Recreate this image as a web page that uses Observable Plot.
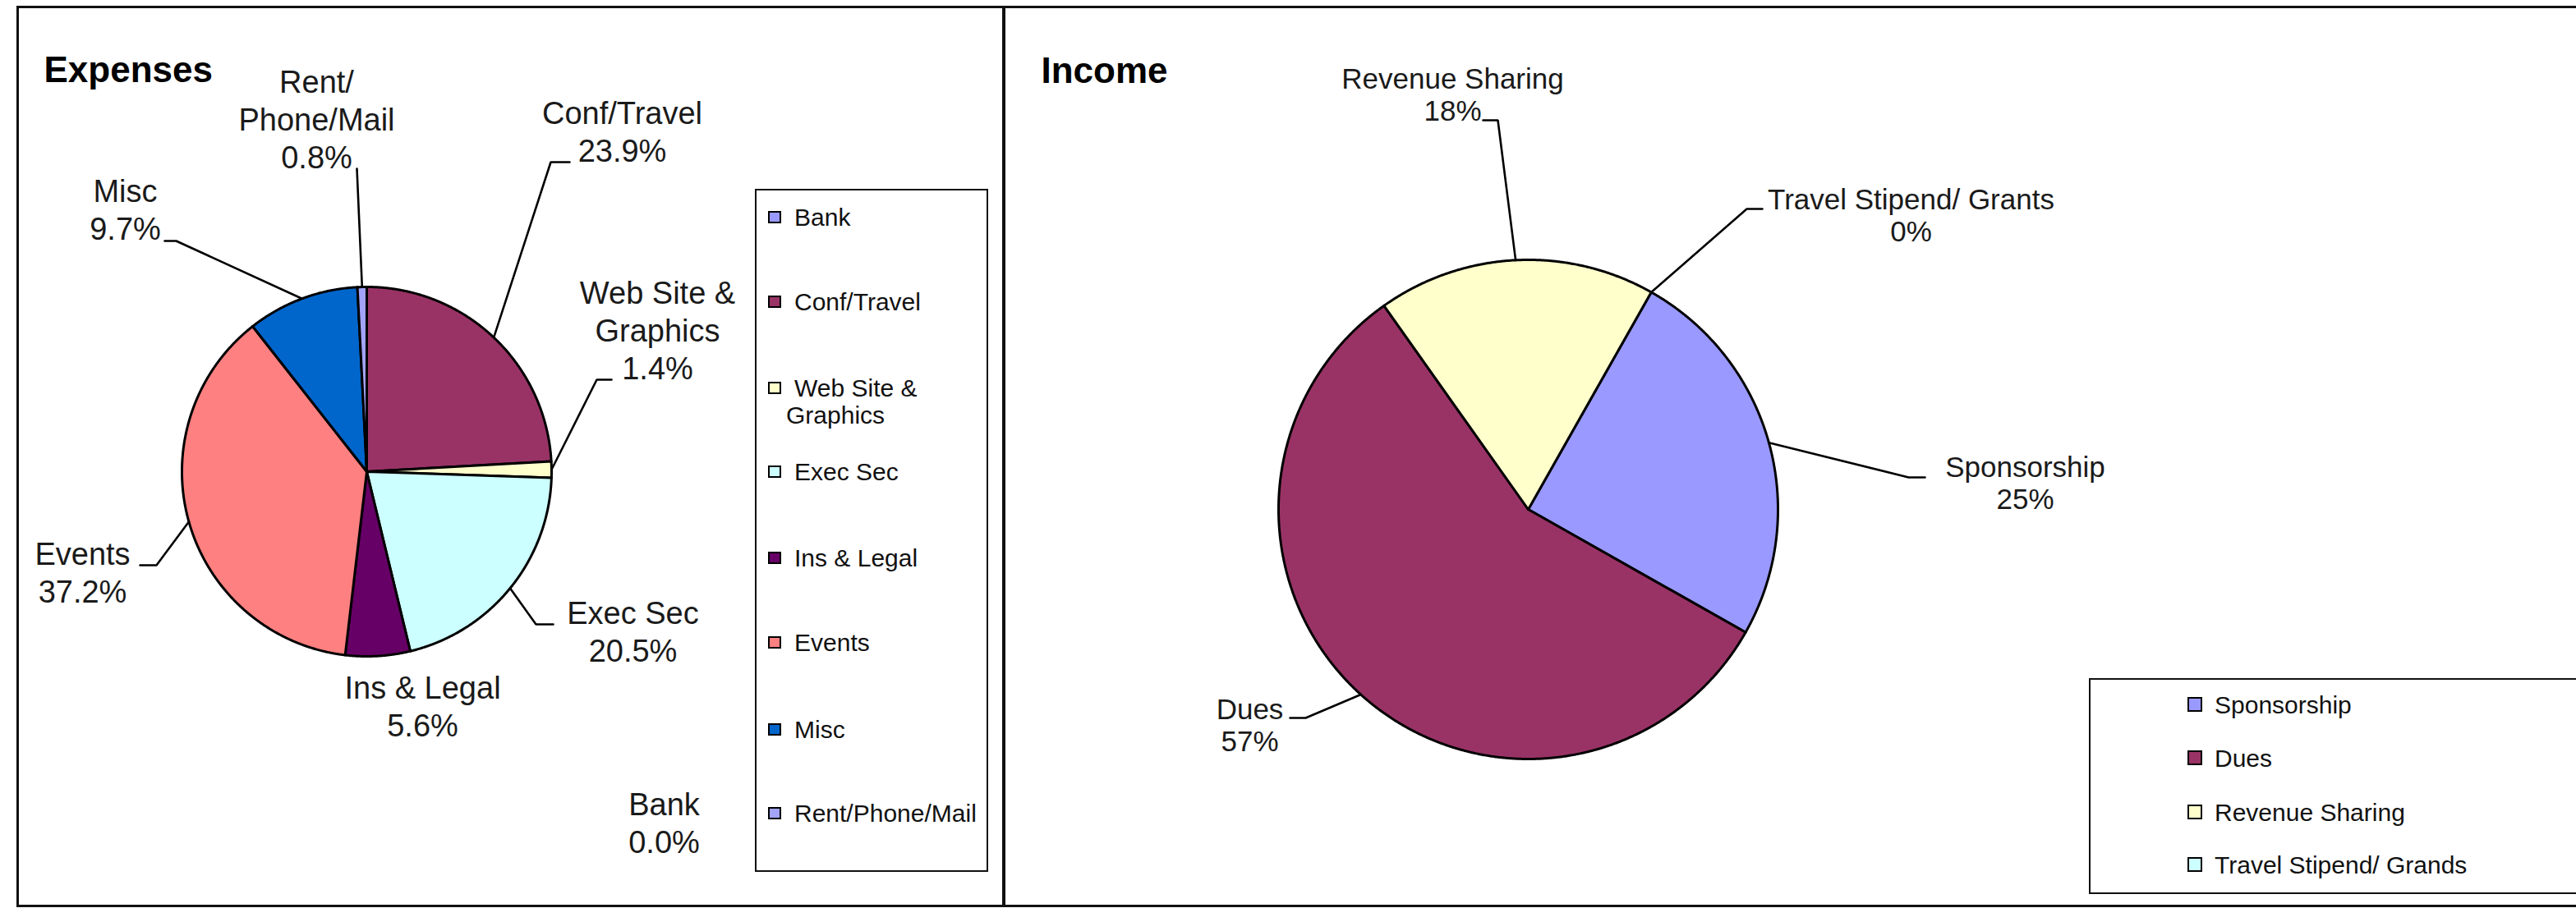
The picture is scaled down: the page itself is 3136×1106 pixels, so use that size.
<!DOCTYPE html>
<html><head><meta charset="utf-8">
<script src="https://cdn.jsdelivr.net/npm/d3@7"></script>
<script src="https://cdn.jsdelivr.net/npm/@observablehq/plot@0.6"></script>
<style>
body{margin:0;background:#fff;}
#page{position:relative;width:3136px;height:1106px;overflow:hidden;background:#fff;font-family:"Liberation Sans",Arial,sans-serif;color:#111;}
.panel{position:absolute;border:3px solid #111;box-sizing:border-box;}
.legend{position:absolute;border:2px solid #111;box-sizing:border-box;background:#fff;z-index:3;}
.item{position:absolute;font-size:30px;line-height:33px;white-space:pre;color:#111;z-index:4;}
.sw{position:absolute;border:2px solid #000;box-sizing:border-box;z-index:4;}
.plot{position:absolute;top:0;z-index:2;}
</style></head>
<body><div id="page"></div>
<script>
// ---------- DATA ----------
const expenseCategories = ["Bank","Conf/Travel","Web Site & Graphics","Exec Sec","Ins & Legal","Events","Misc","Rent/Phone/Mail"];
const expenseValues     = [0.0, 23.9, 1.4, 20.5, 5.6, 37.2, 9.7, 0.8];
const expenseLabelNames = ["Bank","Conf/Travel","Web Site &\nGraphics","Exec Sec","Ins & Legal","Events","Misc","Rent/\nPhone/Mail"];
const expenseLegendNames = ["Bank","Conf/Travel","Web Site &\n Graphics","Exec Sec","Ins & Legal","Events","Misc","Rent/Phone/Mail"];
const expenseColors     = ["#9999FF","#993366","#FFFFCC","#CCFFFF","#660066","#FF8080","#0066CC","#A3A3FA"];

const incomeCategories  = ["Sponsorship","Dues","Revenue Sharing","Travel Stipend/ Grants"];
const incomeValues      = [25, 57, 18, 0];
const incomeLegendNames = ["Sponsorship","Dues","Revenue Sharing","Travel Stipend/ Grands"];
const incomeColors      = ["#9999FF","#993366","#FFFFCC","#CCFFFF"];

// ---------- LAYOUT (page pixels) ----------
const FONT = "Liberation Sans, Arial, sans-serif";
const expenseLayout = {x0:0, x1:1222, cx:446, cy:574, r:225, start:0,
  title:{text:"Expenses", x:53, y:99}, fontSize:38, lineHeight:46/38, digits:1};
const incomeLayout = {x0:1222, x1:3136, cx:1860, cy:620, r:304, start:29.5,
  title:{text:"Income", x:1267, y:100}, fontSize:35, lineHeight:39/35, digits:0};
// label anchor: x = centre of text, y = baseline of last line; leader = elbow points after the slice edge
const expenseLabelPos = [
  {x:808, y:1038, leader:null},
  {x:757, y:196,  leader:[[670,197],[693,197]]},
  {x:800, y:461,  leader:[[726,462],[744,462]]},
  {x:770, y:805,  leader:[[652,760],[673,760]]},
  {x:514, y:896,  leader:null},
  {x:100, y:733,  leader:[[190,688],[170,688]]},
  {x:152, y:291,  leader:[[214,293],[200,293]]},
  {x:385, y:204,  leader:[[434,205]]}
];
const incomeLabelPos = [
  {x:2465, y:619, leader:[[2323,581],[2343,581]]},
  {x:1521, y:914, leader:[[1589,874],[1570,874]]},
  {x:1768, y:146, leader:[[1823,146],[1805,146]]},
  {x:2326, y:293, leader:[[2126,254],[2145,254]]}
];
const expenseLegend = {left:919, top:230, width:284, height:832, swX:935, swW:16, swH:15, textX:957,
  rows:[264,367,472,574,679,782,888,990]};
const incomeLegend = {left:2543, top:826, width:700, height:263, swX:2663, swW:18, swH:18, textX:2696,
  rows:[858,923,989,1053]};

const page = document.getElementById("page");

function pieChart(cats, vals, labelNames, colors, L, pos) {
  const rad = L.start * Math.PI / 180;
  const arcs = d3.pie().sort(null).value(d => d).startAngle(rad).endAngle(rad + 2 * Math.PI)(vals);
  const pt = a => [L.cx + L.r * Math.sin(a), L.cy - L.r * Math.cos(a)];
  const slices = [];
  arcs.forEach((a, i) => {
    if (vals[i] <= 0) return;
    const n = Math.max(2, Math.ceil((a.endAngle - a.startAngle) / (Math.PI / 720)));
    slices.push({name: cats[i], x: L.cx, y: L.cy});
    for (let k = 0; k <= n; k++) {
      const [x, y] = pt(a.startAngle + (a.endAngle - a.startAngle) * k / n);
      slices.push({name: cats[i], x, y});
    }
    slices.push({name: cats[i], x: L.cx, y: L.cy});
  });
  const leaders = [];
  const labels = [];
  arcs.forEach((a, i) => {
    const p = pos[i];
    labels.push({x: p.x, y: p.y, text: labelNames[i] + "\n" + vals[i].toFixed(L.digits) + "%"});
    if (!p.leader) return;
    const [ex, ey] = pt((a.startAngle + a.endAngle) / 2);
    leaders.push({id: cats[i], x: ex, y: ey});
    p.leader.forEach(([x, y]) => leaders.push({id: cats[i], x, y}));
  });
  const W = L.x1 - L.x0, H = 1106;
  const svg = Plot.plot({
    width: W, height: H, margin: 0,
    x: {domain: [L.x0, L.x1], range: [0, W], axis: null},
    y: {domain: [0, H], range: [0, H], axis: null},
    color: {domain: cats, range: colors},
    style: {fontFamily: FONT, background: "transparent", overflow: "visible"},
    marks: [
      Plot.line(slices, {x: "x", y: "y", z: "name", fill: "name", stroke: "#000", strokeWidth: 3, strokeLinejoin: "round"}),
      Plot.line(leaders, {x: "x", y: "y", z: "id", stroke: "#000", strokeWidth: 2.6, strokeLinejoin: "miter"}),
      Plot.text(labels, {x: "x", y: "y", text: "text", fontSize: L.fontSize, lineHeight: L.lineHeight,
        textAnchor: "middle", lineAnchor: "bottom", fill: "#1a1a1a"}),
      Plot.text([L.title], {x: "x", y: "y", text: "text", fontSize: 44, fontWeight: "bold",
        textAnchor: "start", lineAnchor: "bottom", fill: "#000"})
    ]
  });
  svg.classList.add("plot");
  svg.style.left = L.x0 + "px";
  page.appendChild(svg);
}

function legend(names, colors, G) {
  const box = document.createElement("div");
  box.className = "legend";
  Object.assign(box.style, {left: G.left + "px", top: G.top + "px", width: G.width + "px", height: G.height + "px"});
  page.appendChild(box);
  names.forEach((nm, i) => {
    const cy = G.rows[i];
    const sw = document.createElement("div");
    sw.className = "sw";
    Object.assign(sw.style, {left: G.swX + "px", top: (cy - G.swH / 2) + "px", width: G.swW + "px", height: G.swH + "px", background: colors[i]});
    page.appendChild(sw);
    const t = document.createElement("div");
    t.className = "item";
    const lines = nm.split("\n");
    if (lines.length > 1) {
      t.textContent = lines[0] + "\n" + lines[1].trim();
      Object.assign(t.style, {left: G.textX + "px", top: (cy - 16.5) + "px", textIndent: (G.textX === 957 ? 10 : 0) + "px"});
    } else {
      t.textContent = nm;
      Object.assign(t.style, {left: (G.textX === 957 ? 967 : G.textX) + "px", top: (cy - 16.5) + "px"});
    }
    page.appendChild(t);
  });
}

// panel frames
[[20, 7, 1204, 1098], [1220, 7, 1930, 1098]].forEach(([l, t, w, h]) => {
  const d = document.createElement("div");
  d.className = "panel";
  Object.assign(d.style, {left: l + "px", top: t + "px", width: w + "px", height: h + "px"});
  page.appendChild(d);
});

pieChart(expenseCategories, expenseValues, expenseLabelNames, expenseColors, expenseLayout, expenseLabelPos);
pieChart(incomeCategories, incomeValues, incomeCategories, incomeColors, incomeLayout, incomeLabelPos);
legend(expenseLegendNames, expenseColors, expenseLegend);
legend(incomeLegendNames, incomeColors, incomeLegend);
</script>
</body></html>
